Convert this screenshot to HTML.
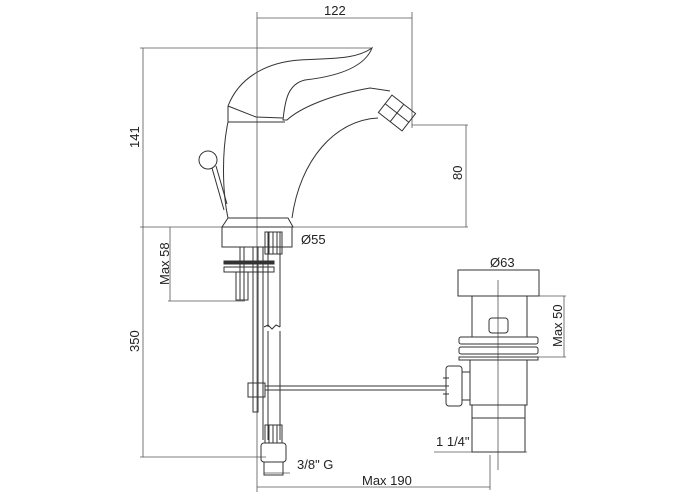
<!DOCTYPE html>
<html><head><style>html,body{margin:0;padding:0;background:#fff}svg{display:block}</style></head><body>
<svg width="700" height="500" viewBox="0 0 700 500" xmlns="http://www.w3.org/2000/svg" font-family="Liberation Sans, sans-serif" font-size="13" fill="none" stroke="#333" stroke-width="1">
<!-- dimension lines -->
<g stroke="#555" stroke-width="0.8">
<line x1="257" y1="12" x2="257" y2="492"/>
<line x1="412" y1="12" x2="412" y2="128"/>
<line x1="257" y1="18" x2="412" y2="18"/>
<line x1="140" y1="48" x2="372" y2="48"/>
<line x1="143" y1="48" x2="143" y2="457"/>
<line x1="140" y1="227" x2="468" y2="227"/>
<line x1="412" y1="125" x2="468" y2="125"/>
<line x1="466" y1="125" x2="466" y2="227"/>
<line x1="170" y1="227" x2="170" y2="301"/>
<line x1="168" y1="301" x2="245" y2="301"/>
<line x1="222" y1="247" x2="292" y2="247"/>
<line x1="140" y1="457" x2="266" y2="457"/>
<line x1="264" y1="473" x2="290" y2="473"/>
<line x1="257" y1="487" x2="490" y2="487"/>
<line x1="490" y1="455" x2="490" y2="490"/>
<line x1="458" y1="270" x2="539" y2="270"/>
<line x1="527" y1="296" x2="566" y2="296"/>
<line x1="527" y1="357" x2="566" y2="357"/>
<line x1="564" y1="296" x2="564" y2="357"/>
<line x1="434" y1="452" x2="527" y2="452"/>
<line x1="498" y1="280" x2="498" y2="470"/>
</g>
<g fill="#222" stroke="none">
<text x="324" y="15">122</text>
<text transform="translate(139,148) rotate(-90)">141</text>
<text transform="translate(462,180) rotate(-90)">80</text>
<text transform="translate(169,285) rotate(-90)">Max 58</text>
<text x="301" y="244">Ø55</text>
<text transform="translate(139,352) rotate(-90)">350</text>
<text x="297" y="469">3/8" G</text>
<text x="362" y="485">Max 190</text>
<text x="490" y="267">Ø63</text>
<text transform="translate(562,347) rotate(-90)">Max 50</text>
<text x="436" y="446">1 1/4"</text>
</g>
<!-- faucet -->
<path d="M228,106 C240,75 270,62 300,60 C330,58 355,60 372,48 C365,66 340,76 305,80 C288,84 285,100 283,120 L287,120 C300,108 330,95 370,88 L390,91"/>
<path d="M228,106 L256,117 L283,118"/>
<path d="M228,122 L285,122"/>
<path d="M228,106 L228,122 C222,150 222,190 228,218"/>
<path d="M378,118 C335,120 300,160 292,218"/>
<path d="M228,218 L222,227 L293,227 L288,218 Z"/>
<g transform="translate(397,113) rotate(38)">
<rect x="-15" y="-11" width="30" height="22"/>
<line x1="0" y1="-11" x2="0" y2="11"/><line x1="-15" y1="0" x2="15" y2="0"/>
</g>
<circle cx="208" cy="160" r="9"/>
<path d="M212,168 L224,210 M216,166 L227,204"/>
<!-- lower -->
<rect x="222" y="227" width="70" height="20"/>
<rect x="224" y="261" width="50" height="3" fill="#333"/>
<rect x="224" y="267" width="50" height="5"/>
<rect x="236" y="272" width="12" height="28"/>
<path d="M240,247 V300 M244,247 V300"/>
<rect x="253" y="247" width="5" height="165"/>
<path d="M263,247 V440 M268,232 V327 M280,232 V327 M268,331 V440 M280,331 V440 M264,327 l4,-2 l4,4 l4,-4 l4,2"/>
<rect x="265" y="232" width="17" height="22"/>
<path d="M269,232 V254 M273,232 V254 M277,232 V254"/>
<rect x="248" y="383" width="17" height="14"/>
<path d="M265,386 H445 M265,390 H445"/>
<rect x="265" y="425" width="17" height="18"/>
<path d="M269,425 V443 M273,425 V443 M277,425 V443"/>
<rect x="261" y="443" width="25" height="19" rx="3"/>
<rect x="264" y="462" width="19" height="13"/>
<!-- drain -->
<rect x="458" y="270" width="81" height="26"/>
<rect x="472" y="296" width="55" height="41"/>
<rect x="489" y="318" width="19" height="15" rx="3"/>
<rect x="459" y="337" width="79" height="7" rx="2"/>
<rect x="459" y="347" width="79" height="7" rx="2"/>
<rect x="459" y="357" width="79" height="3"/>
<rect x="470" y="360" width="57" height="45"/>
<rect x="472" y="405" width="53" height="13"/>
<rect x="472" y="418" width="53" height="34"/>
<rect x="446" y="366" width="16" height="40" rx="3"/>
<rect x="462" y="372" width="8" height="28"/>
<path d="M443,378 h6 M443,386 h6 M443,394 h6"/>
</svg>
</body></html>
